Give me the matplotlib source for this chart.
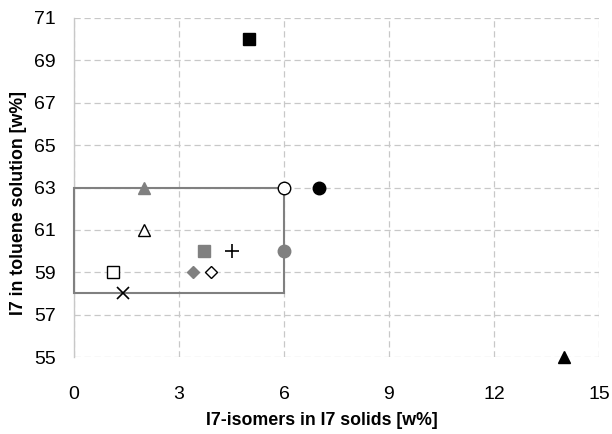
import matplotlib
matplotlib.use("Agg")
import matplotlib.pyplot as plt
from matplotlib.patches import Rectangle

plt.rcParams['font.family'] = ['Liberation Sans', 'DejaVu Sans']

# data points: (x, y, marker, facecolor, edgecolor)
xs = [5.0, 7.0, 6.0, 2.0, 2.0, 3.7, 4.5, 6.0, 1.1, 3.4, 3.9, 1.4, 14.0]
ys = [70.0, 63.0, 63.0, 63.0, 61.0, 60.0, 60.0, 60.0, 59.0, 59.0, 59.0, 58.0, 55.0]
markers = ['s', 'o', 'o', '^', '^', 's', '+', 'o', 's', 'D', 'D', 'x', '^']
faces = ['black', 'black', 'white', '#808080', 'white', '#808080', 'black',
         '#808080', 'white', '#808080', 'white', 'black', 'black']
edges = ['black', 'black', 'black', '#808080', 'black', '#808080', 'black',
         '#808080', 'black', '#808080', 'black', 'black', 'black']
sizes = [8, 9, 9, 9, 9, 8, 10, 9, 8, 6.5, 6.5, 9, 9]

rect_x = [0, 6]
rect_y = [58, 63]

xticks = [0, 3, 6, 9, 12, 15]
yticks = [55, 57, 59, 61, 63, 65, 67, 69, 71]

fig = plt.figure(figsize=(6.12, 4.34), dpi=100)
ax = fig.add_axes([74/612, 1-357/434, 525/612, 339/434])

ax.set_xlim(0, 15)
ax.set_ylim(55, 71)
ax.set_xticks(xticks)
ax.set_yticks(yticks)
ax.grid(True, linestyle=(0, (5, 3)), color='#c8c8c8', linewidth=0.9)
ax.set_axisbelow(True)
for s in ['top', 'right', 'bottom']:
    ax.spines[s].set_visible(False)
ax.spines['left'].set_color('#c8c8c8')
ax.spines['left'].set_linewidth(1.0)
ax.tick_params(length=0, labelsize=14)
ax.tick_params(axis='x', pad=21)
ax.tick_params(axis='y', pad=13)

rect = Rectangle((rect_x[0], rect_y[0]), rect_x[1]-rect_x[0], rect_y[1]-rect_y[0],
                 fill=False, edgecolor='#808080', linewidth=1.5, zorder=4,
                 clip_on=False)
ax.add_patch(rect)

for x, y, m, fc, ec, ms in zip(xs, ys, markers, faces, edges, sizes):
    if m in ('+', 'x'):
        ax.plot(x, y, marker=m, color=ec, markersize=ms, markeredgewidth=1.2,
                linestyle='none', zorder=5, clip_on=False)
    else:
        ax.plot(x, y, marker=m, markerfacecolor=fc, markeredgecolor=ec,
                markersize=ms, markeredgewidth=1.0, linestyle='none', zorder=5,
                clip_on=False)

ax.set_xlabel('I7-isomers in I7 solids [w%]', fontsize=12.8, fontweight='bold',
              va='center')
ax.set_ylabel('I7 in toluene solution [w%]', fontsize=12.8, fontweight='bold',
              va='center')
ax.xaxis.set_label_coords(0.472, -0.186)
ax.yaxis.set_label_coords(-0.105, 0.453)

fig.savefig('out.png', dpi=100)
